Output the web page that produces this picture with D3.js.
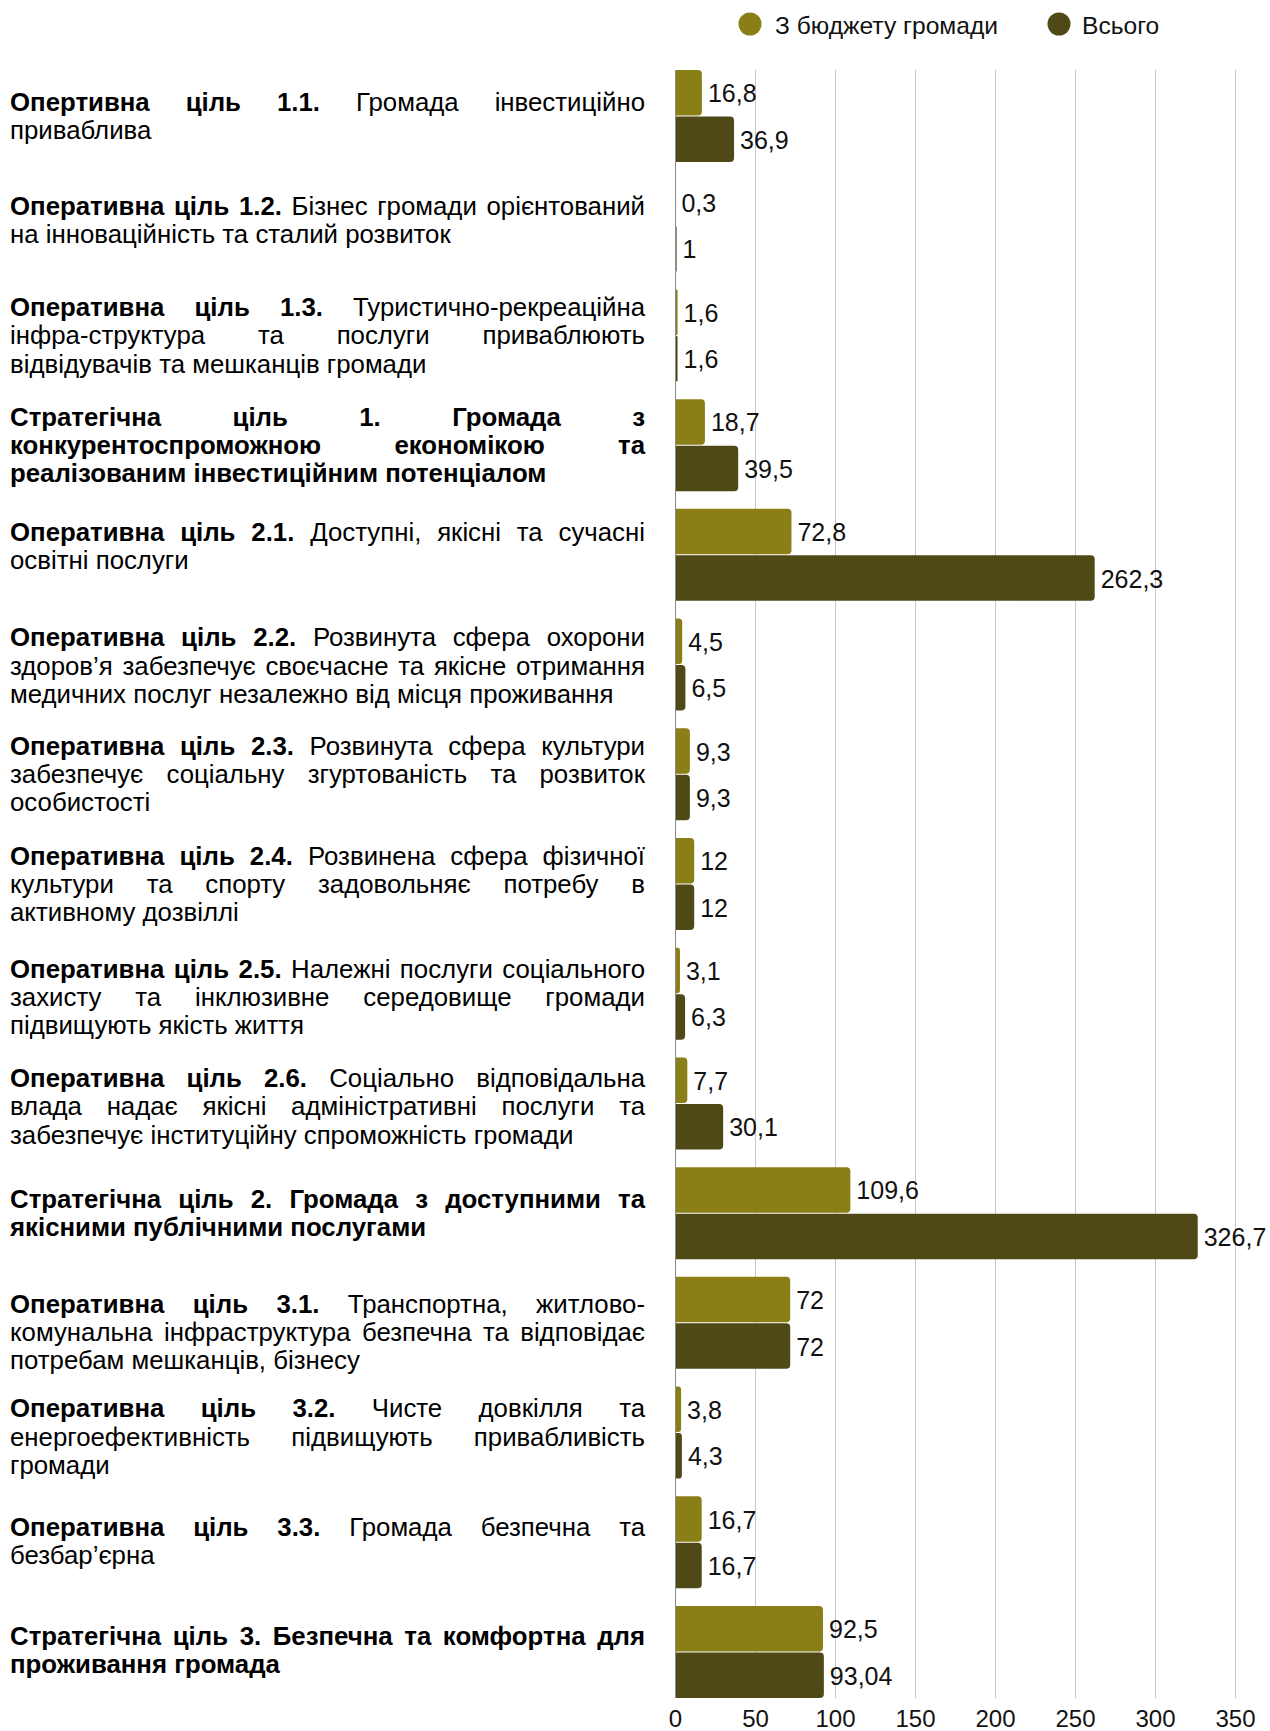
<!DOCTYPE html>
<html>
<head>
<meta charset="utf-8">
<script src="https://cdn.jsdelivr.net/npm/d3@7"></script>
<style>
  html, body { margin: 0; padding: 0; background: #fff; }
  svg { display: block; }
</style>
</head>
<body>
<svg id="chart" width="1270" height="1731"></svg>
<script>
// ---- data ----
const categories = [
  ["*Опертивна ціль 1.1.* Громада інвестиційно", "приваблива"],
  ["*Оперативна ціль 1.2.* Бізнес громади орієнтований", "на інноваційність та сталий розвиток"],
  ["*Оперативна ціль 1.3.* Туристично-рекреаційна", "інфра-структура та послуги приваблюють", "відвідувачів та мешканців громади"],
  ["*Стратегічна ціль 1. Громада з*", "*конкурентоспроможною економікою та*", "*реалізованим інвестиційним потенціалом*"],
  ["*Оперативна ціль 2.1.* Доступні, якісні та сучасні", "освітні послуги"],
  ["*Оперативна ціль 2.2.* Розвинута сфера охорони", "здоров’я забезпечує своєчасне та якісне отримання", "медичних послуг незалежно від місця проживання"],
  ["*Оперативна ціль 2.3.* Розвинута сфера культури", "забезпечує соціальну згуртованість та розвиток", "особистості"],
  ["*Оперативна ціль 2.4.* Розвинена сфера фізичної", "культури та спорту задовольняє потребу в", "активному дозвіллі"],
  ["*Оперативна ціль 2.5.* Належні послуги соціального", "захисту та інклюзивне середовище громади", "підвищують якість життя"],
  ["*Оперативна ціль 2.6.* Соціально відповідальна", "влада надає якісні адміністративні послуги та", "забезпечує інституційну спроможність громади"],
  ["*Стратегічна ціль 2. Громада з доступними та*", "*якісними публічними послугами*"],
  ["*Оперативна ціль 3.1.* Транспортна, житлово-", "комунальна інфраструктура безпечна та відповідає", "потребам мешканців, бізнесу"],
  ["*Оперативна ціль 3.2.* Чисте довкілля та", "енергоефективність підвищують привабливість", "громади"],
  ["*Оперативна ціль 3.3.* Громада безпечна та", "безбар’єрна"],
  ["*Стратегічна ціль 3. Безпечна та комфортна для*", "*проживання громада*"]
];
const budgetValues = [16.8, 0.3, 1.6, 18.7, 72.8, 4.5, 9.3, 12, 3.1, 7.7, 109.6, 72, 3.8, 16.7, 92.5];
const totalValues  = [36.9, 1, 1.6, 39.5, 262.3, 6.5, 9.3, 12, 6.3, 30.1, 326.7, 72, 4.3, 16.7, 93.04];
const seriesNames = ["З бюджету громади", "Всього"];
const seriesColors = ["#8a7f16", "#4e4916"];
const tickValues = [0, 50, 100, 150, 200, 250, 300, 350];

// ---- layout ----
const svg = d3.select("#chart");
const plotLeft = 675, plotRight = 1235, plotTop = 70, plotBottom = 1698;
const labelLeft = 10, labelRight = 645;
const labelFont = "'Liberation Sans Narrow', 'Liberation Sans', Arial, sans-serif";
const numFont = "'Liberation Sans', Arial, sans-serif";
const labelSize = 25.8, lineH = 28.2;
// small vertical nudges of the text blocks relative to their band centres (layout only)
const labelNudge = [0, -6, 0, 0, -9, 1, 0, 0, 3, 3, 0, 9, 4, -1, -2];

const x = d3.scaleLinear().domain([0, 350]).range([plotLeft, plotRight]);
const y = d3.scaleBand().domain(d3.range(categories.length)).range([plotTop, plotBottom])
  .paddingInner(0.1615).paddingOuter(0);
const sub = d3.scaleBand().domain([0, 1]).range([0, y.bandwidth()]).paddingInner(0.022);

// gridlines
svg.append("g").selectAll("line").data(tickValues.filter(d => d > 0)).join("line")
  .attr("x1", d => x(d)).attr("x2", d => x(d))
  .attr("y1", plotTop).attr("y2", plotBottom)
  .attr("stroke", "#c8c8c8").attr("stroke-width", 1).attr("shape-rendering", "crispEdges");

// bars
function barPath(x0, x1, yy, h) {
  const w = Math.max(0, x1 - x0);
  const r = Math.min(4, w / 2, h / 2);
  return `M${x0},${yy}H${x1 - r}Q${x1},${yy} ${x1},${yy + r}V${yy + h - r}Q${x1},${yy + h} ${x1 - r},${yy + h}H${x0}Z`;
}
const series = [budgetValues, totalValues];
const fmt = v => String(v).replace(".", ",");
series.forEach((vals, si) => {
  const g = svg.append("g");
  g.selectAll("path").data(vals).join("path")
    .attr("d", (v, i) => barPath(x(0), x(v), y(i) + sub(si), sub.bandwidth()))
    .attr("fill", seriesColors[si]);
  g.selectAll("text").data(vals).join("text")
    .attr("x", v => x(v) + 6)
    .attr("y", (v, i) => y(i) + sub(si) + sub.bandwidth() / 2 + 0.5)
    .attr("dominant-baseline", "central")
    .attr("font-family", numFont).attr("font-size", 25).attr("fill", "#111")
    .text(v => fmt(v));
});

// left axis line
svg.append("line").attr("x1", x(0)).attr("x2", x(0)).attr("y1", plotTop).attr("y2", plotBottom)
  .attr("stroke", "#8c8c8c").attr("stroke-width", 1).attr("shape-rendering", "crispEdges");

// x axis
const xAxis = d3.axisBottom(x).tickValues(tickValues).tickSize(0).tickPadding(0).tickFormat(d => d);
const ax = svg.append("g").attr("transform", `translate(0,${plotBottom})`).call(xAxis);
ax.select(".domain").remove();
ax.selectAll("text").attr("y", 20).attr("dy", 0).attr("dominant-baseline", "central")
  .attr("font-family", numFont).attr("font-size", 24).attr("fill", "#111");

// legend
const legend = svg.append("g");
const legendItems = [{ cx: 750, tx: 775 }, { cx: 1059, tx: 1082 }];
seriesNames.forEach((name, i) => {
  legend.append("circle").attr("cx", legendItems[i].cx).attr("cy", 24).attr("r", 11.5)
    .attr("fill", seriesColors[i]);
  legend.append("text").attr("x", legendItems[i].tx).attr("y", 25).attr("dominant-baseline", "central")
    .attr("font-family", numFont).attr("font-size", 24.6).attr("fill", "#111").text(name);
});

// category labels (justified)
const measurer = svg.append("text").attr("font-family", labelFont).attr("font-size", labelSize)
  .attr("visibility", "hidden");
function measure(word, bold) {
  measurer.attr("font-weight", bold ? "bold" : "normal").text(word);
  return measurer.node().getComputedTextLength();
}
const spaceW = measure("a a", false) - measure("aa", false);
const labelsG = svg.append("g");
categories.forEach((lines, ci) => {
  const center = y(ci) + y.bandwidth() / 2 + labelNudge[ci];
  const top = center - (lines.length - 1) * lineH / 2;
  lines.forEach((line, li) => {
    const parts = line.split("*");
    const words = [];
    parts.forEach((p, pi) => {
      const bold = pi % 2 === 1;
      p.split(/\s+/).filter(w => w.length).forEach(w => words.push({ w, bold, width: measure(w, bold) }));
    });
    const isLast = li === lines.length - 1;
    const total = d3.sum(words, d => d.width);
    const gap = (!isLast && words.length > 1) ? (labelRight - labelLeft - total) / (words.length - 1) : spaceW;
    let cx = labelLeft;
    const yy = top + li * lineH;
    words.forEach(wd => {
      labelsG.append("text").attr("x", cx).attr("y", yy).attr("dominant-baseline", "central")
        .attr("font-family", labelFont).attr("font-size", labelSize)
        .attr("font-weight", wd.bold ? "bold" : "normal").attr("fill", "#000").text(wd.w);
      cx += wd.width + gap;
    });
  });
});
measurer.remove();
</script>
</body>
</html>
